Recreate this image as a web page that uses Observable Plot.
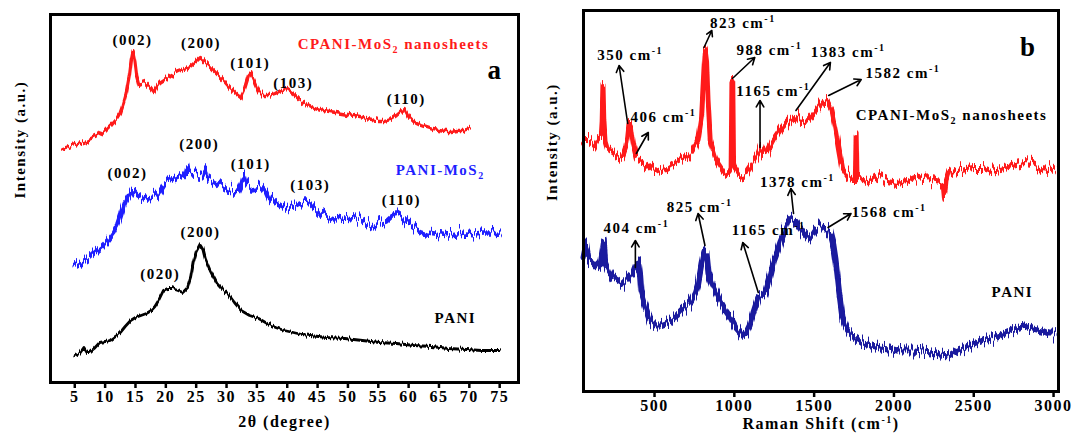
<!DOCTYPE html>
<html><head><meta charset="utf-8">
<script src="https://cdn.jsdelivr.net/npm/d3@7"></script>
<script src="https://cdn.jsdelivr.net/npm/@observablehq/plot@0.6"></script>
<style>
body{margin:0;background:#fff;}
#wrap{position:relative;width:1072px;height:435px;overflow:hidden;background:#fff;}
#a{position:absolute;left:0;top:0;}
#b{position:absolute;left:540px;top:0;}
#wrap svg text{font-family:'Liberation Serif','Times New Roman',serif;font-weight:bold;}
</style></head><body><div id="wrap"><div id="a"></div><div id="b"></div></div>
<script>
// ---------- Panel a : XRD ----------
const xrdTicks = [5,10,15,20,25,30,35,40,45,50,55,60,65,70,75];
const cpaniX = [3,4,5,6,7,8,9,10,11,12,12.5,13,13.5,14,14.3,14.6,14.9,15.2,15.6,16,16.5,17,17.5,18,18.5,19,20,21,22,23,24,25,25.7,26.5,27.5,28.5,29.5,30.5,31.5,32.3,33,33.6,34,34.5,35.2,36,37,38,39,40,41,42,43,44,45,46,47,48,49,50,51,52,53,54,55,56,57,58,59,59.3,60,61,62,63,64,65,66,67,68,69,70];
const cpaniY = [234,236,238,240,242,245,248,252,258,265,270,279,290,307,322,331,322,307,298,299,300,297,294,290,296,300,304,308,311,313,316,321,325,320,314,308,302,295,289,285,294,306,309,302,292,287,287,289,292,293,289,283,279,276,274,272,271,270,269,268,267,266,264,263,261,261,263,267,272,274,266,260,257,255,253,252,251,251,252,252,254];
const pmosX = [5,6,7.4,8.5,9.7,10.5,11.4,12,12.5,13,13.4,14.2,14.6,15.4,16,17,18,18.8,19.9,21,22,22.8,23.3,23.5,23.7,24.5,25.5,26.3,26.5,26.7,27.5,28.4,29.3,30.2,31.2,31.9,32.5,32.8,33.1,33.5,34.1,35,35.8,36.5,37,38.1,39,39.8,41,42.1,43,43.8,45.5,46.5,47.8,49.5,51,52.4,53.3,54.1,55.2,56.3,57.2,58,58.8,59.8,61,62,63,64.3,65.5,66.6,68,69.4,71,72.3,73.5,75];
const pmosY = [117,120,125,131,137,142,149,156,165,175,182,190,194,189,187,185,186,189,200,202,205,207,210,216,210,209,208,207,213,205,202,199,195,192,191,192,200,207,200,198,195,196,197,192,185,179,176,174,176,179,180,179,169,166,164,165,164,162,159,157,160,162,167,169,166,160,155,152,150,149,148,147,148,149,148,149,149,150];
const paniX = [5,5.8,6.5,7,7.4,8.2,9.1,10,10.8,11.7,12.5,13.3,14.2,15,15.9,16.8,17.6,18.2,18.8,19.6,20.3,21,22,22.8,23.6,24.1,24.5,25,25.7,26.1,26.5,27.3,28.4,29.3,30.2,31.3,32.4,33.8,35.3,36.7,38.1,39.5,41,42.4,43.8,46.5,49.5,52.4,55.2,58,60.9,63.8,66.6,69.5,72,75];
const paniY = [27,29,35,30,30,34,40,41,42,46,50,56,62,65,67,69,72,76,82,92,94,94,92,90,95,105,119,130,138,134,124,112,99,93,89,80,72,67,64,59,55,52,50,48,47,45,44,42,40,39,37,36,34,33,32,32];
const cpaniPeaks = [["(002)",14.5,342],["(200)",25.8,339],["(101)",33.9,319],["(103)",41.0,299],["(110)",59.6,283]];
const pmosPeaks = [["(002)",13.7,209],["(200)",25.5,238],["(101)",34.0,218],["(103)",43.8,197],["(110)",58.8,182]];
const paniPeaks = [["(020)",19.1,108],["(200)",25.7,150]];
const xrdNames = [["CPANI-MoS2 nanosheets",57.5,338],["PANI-MoS2",65.2,212],["PANI",67.7,64]];

// ---------- Panel b : Raman ----------
const ramanTicks = [500,1000,1500,2000,2500,3000];
const rCpaniX = [55,85,120,149,165,172,177,182,190,203,230,257,300,320,332,340,350,358,370,386,420,451,504,540,580,620,666,700,730,760,773,795,810,818,826,835,849,881,935,967,980,985,990,995,999,1031,1074,1118,1150,1165,1180,1204,1247,1290,1333,1376,1400,1419,1462,1505,1548,1580,1612,1634,1655,1677,1709,1740,1758,1763,1768,1806,1860,1914,1960,2021,2080,2129,2180,2236,2290,2310,2318,2326,2344,2400,2451,2500,2559,2610,2667,2740,2817,2870,2925,2970,3000];
const rCpaniY = [251,251,246,254,253,271,305,271,251,244,241,238,234,243,254,266,266,256,244,234,231,228,221,223,224,228,231,234,238,246,251,274,321,341,331,291,251,234,221,219,223,310,310,226,224,216,218,228,236,243,236,238,251,261,269,276,273,269,271,279,288,291,281,264,244,224,216,213,213,258,213,211,209,214,211,209,211,214,212,213,211,209,196,209,218,221,223,224,224,221,223,226,229,228,224,223,221];
const rPaniX = [55,70,85,110,139,160,175,182,190,210,235,270,300,330,354,370,386,400,410,418,440,472,505,537,570,601,640,666,700,730,760,773,795,812,825,838,860,881,910,945,980,1010,1053,1075,1096,1120,1150,1170,1193,1220,1247,1270,1290,1310,1333,1365,1385,1408,1435,1462,1485,1505,1530,1558,1580,1601,1620,1634,1655,1677,1700,1720,1760,1806,1860,1914,1970,2021,2075,2129,2180,2236,2290,2344,2400,2451,2500,2559,2610,2667,2740,2817,2870,2925,2970,3000];
const rPaniY = [134,146,131,129,124,126,141,149,129,121,114,111,108,113,118,121,128,129,116,98,86,71,66,66,68,71,76,81,86,91,101,108,128,141,139,118,108,101,91,81,73,64,56,59,66,79,94,96,98,113,131,141,151,159,168,172,170,164,158,153,156,161,163,163,161,158,146,131,101,74,64,59,53,48,46,44,43,41,41,41,40,39,37,36,41,44,47,51,53,56,61,66,63,61,58,58];
const rCpaniPeaks = [["350 cm-1",347,336],["406 cm-1",556,274],["823 cm-1",1053,368],["988 cm-1",1219,341],["1165 cm-1",1244,300],["1383 cm-1",1713,339],["1582 cm-1",2056,318]];
const rPaniPeaks = [["404 cm-1",386,163],["825 cm-1",782,184],["1165 cm-1",1215,161],["1378 cm-1",1395,209],["1568 cm-1",1970,179]];
const ramanNames = [["CPANI-MoS2 nanosheets",2361,276],["PANI",2742,99]];
const ramanArrows = [[332,268,278,326],[386,238,461,259],[810,344,859,361],[988,313,1128,334],[1161,244,1161,291],[1386,281,1602,329],[1591,296,1795,312],[1371,178,1354,203],[816,146,773,178],[380,124,380,151],[1150,99,1053,149],[1587,164,1731,178]];

const RED = "#ff1a1a", BLUE = "#1f1fff", NAVY = "#1a1a9e";
const FONT = "'Liberation Serif','Times New Roman',serif";
const rows = (xs, ys) => xs.map((x, i) => ({x, y: ys[i]}));
const lab = (arr) => arr.map(([t, x, y]) => ({t, x, y}));
const svgStyle = {fontFamily: FONT, fontWeight: "bold", fontSize: "15px", letterSpacing: "1.5px", background: "white", color: "black", overflow: "visible"};
const axisOpts = {tickSize: 6, tickPadding: 2, label: null, strokeWidth: 2.5, tickFormat: d => String(d), fontSize: 16};

const pa = Plot.plot({
  width: 540, height: 435, marginLeft: 50, marginRight: 22, marginTop: 14, marginBottom: 53,
  x: {domain: [1, 78.1]}, y: {domain: [0, 368], axis: null},
  style: svgStyle,
  marks: [
    Plot.line(rows(paniX, paniY), {x: "x", y: "y", stroke: "black", strokeWidth: 2.8}),
    Plot.line(rows(pmosX, pmosY), {x: "x", y: "y", stroke: BLUE, strokeWidth: 4.6}),
    Plot.line(rows(cpaniX, cpaniY), {x: "x", y: "y", stroke: RED, strokeWidth: 3.3}),
    Plot.frame({stroke: "black", strokeWidth: 3}),
    Plot.axisX({ticks: xrdTicks, ...axisOpts}),
    Plot.text(lab(cpaniPeaks.concat(pmosPeaks, paniPeaks)), {x: "x", y: "y", text: "t", fill: "black", fontSize: 15}),
    Plot.text(lab(xrdNames), {x: "x", y: "y", text: "t", fill: (d, i) => [RED, BLUE, "black"][i], fontSize: 15}),
    Plot.text(["a"], {frameAnchor: "top-right", lineAnchor: "middle", dx: -16, dy: 56, fontSize: 27, letterSpacing: 0}),
    Plot.text(["2θ (degree)"], {frameAnchor: "bottom", dy: 44, fontSize: 16}),
    Plot.text(["Intensity (a.u.)"], {frameAnchor: "left", dx: -30, rotate: -90, fontSize: 15, letterSpacing: "0.5px"})
  ]
});

const pb = Plot.plot({
  width: 532, height: 435, marginLeft: 43, marginRight: 14, marginTop: 10, marginBottom: 44,
  x: {domain: [55, 3031]}, y: {domain: [0, 381], axis: null},
  style: svgStyle,
  marks: [
    Plot.line(rows(rPaniX, rPaniY), {x: "x", y: "y", stroke: NAVY, strokeWidth: 6}),
    Plot.line(rows(rCpaniX, rCpaniY), {x: "x", y: "y", stroke: RED, strokeWidth: 5}),
    Plot.frame({stroke: "black", strokeWidth: 3}),
    Plot.axisX({ticks: ramanTicks, ...axisOpts}),
    Plot.arrow(ramanArrows, {x1: d => d[0], y1: d => d[1], x2: d => d[2], y2: d => d[3], stroke: "black", strokeWidth: 1.6, headLength: 7}),
    Plot.text(lab(rCpaniPeaks.concat(rPaniPeaks, ramanNames)), {x: "x", y: "y", text: "t", fill: "black", fontSize: 15}),
    Plot.text(["b"], {frameAnchor: "top-right", lineAnchor: "middle", dx: -22, dy: 37, fontSize: 27, letterSpacing: 0}),
    Plot.text(["Raman Shift (cm-1)"], {frameAnchor: "bottom", dy: 37, fontSize: 16}),
    Plot.text(["Intensity (a.u.)"], {frameAnchor: "left", dx: -31, rotate: -90, fontSize: 15, letterSpacing: "0.5px"})
  ]
});

// rich text: superscript cm-1, subscript MoS2
function rich(svg) {
  const ns = "http://www.w3.org/2000/svg";
  svg.querySelectorAll("text").forEach(t => {
    const s = t.textContent;
    if (!/cm-1|MoS2/.test(s)) return;
    const parts = s.split(/(cm-1|MoS2)/).filter(p => p);
    while (t.firstChild) t.removeChild(t.firstChild);
    let off = 0;
    const add = (str, target, size) => {
      const ts = document.createElementNS(ns, "tspan");
      ts.textContent = str;
      if (target - off) ts.setAttribute("dy", target - off);
      if (size) ts.setAttribute("font-size", size);
      off = target;
      t.appendChild(ts);
    };
    for (const p of parts) {
      if (p === "cm-1") { add("cm", 0); add("-1", -6, "10px"); }
      else if (p === "MoS2") { add("MoS", 0); add("2", 4, "10px"); }
      else add(p, 0);
    }
  });
}

// rendering texture: jagged spectrometer-noise look applied to the line strokes (style only)
function texture(svg, prefix, w, h, specs) {
  const ns = "http://www.w3.org/2000/svg";
  const defs = document.createElementNS(ns, "defs");
  svg.insertBefore(defs, svg.firstChild);
  const lines = svg.querySelectorAll('g[aria-label="line"]');
  specs.forEach(([scale, seed], i) => {
    const id = prefix + i;
    const f = document.createElementNS(ns, "filter");
    f.setAttribute("id", id);
    f.setAttribute("filterUnits", "userSpaceOnUse");
    f.setAttribute("x", 0); f.setAttribute("y", 0);
    f.setAttribute("width", w); f.setAttribute("height", h);
    f.setAttribute("color-interpolation-filters", "sRGB");
    f.innerHTML =
      `<feTurbulence type="fractalNoise" baseFrequency="0.55 0.003" numOctaves="3" seed="${seed}" result="t"/>` +
      `<feColorMatrix in="t" type="matrix" values="0 0 0 0 0.5  0 1 0 0 0  0 0 1 0 0  0 0 0 0 1" result="m"/>` +
      `<feDisplacementMap in="SourceGraphic" in2="m" scale="${scale}" xChannelSelector="R" yChannelSelector="G"/>`;
    defs.appendChild(f);
    if (lines[i]) lines[i].setAttribute("filter", `url(#${id})`);
  });
}

rich(pa); rich(pb);
texture(pa, "nzA", 540, 435, [[7, 3], [20, 7], [9, 11]]);
texture(pb, "nzB", 532, 435, [[22, 5], [20, 9]]);
document.getElementById("a").appendChild(pa);
document.getElementById("b").appendChild(pb);
</script></body></html>
